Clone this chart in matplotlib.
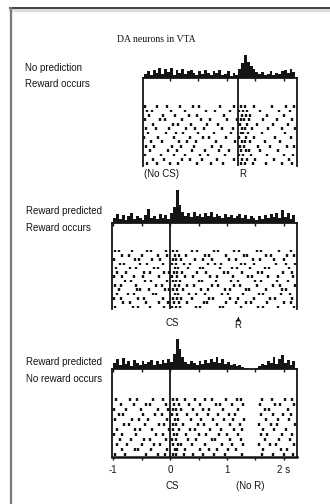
import matplotlib
matplotlib.use('Agg')
import matplotlib.pyplot as plt
from matplotlib.ticker import MultipleLocator
from matplotlib.lines import Line2D

## Data #########################################
bin_w = 0.05

# panel 1: no prediction, reward occurs (aligned so that R = 1.2 s)
hist1_start = -0.45
hist1 = [4, 7, 3, 8, 5, 10, 4, 9, 6, 10, 3, 8, 5, 9, 4, 7, 8, 5, 3, 7, 4, 8, 5, 3, 7, 5, 8,
         3, 4, 7, 2, 5, 3, 9, 15, 23, 16, 12, 9, 6, 4, 6, 3, 4, 7, 3, 5, 4, 7, 8, 5, 9, 6]
raster1 = [
    [-0.44, -0.22, -0.05, 0.18, 0.41, 0.52, 0.88, 1.13, 1.24, 1.31, 1.47, 1.79, 2.04, 2.17],
    [-0.40, -0.31, 0.02, 0.27, 0.63, 0.79, 1.05, 1.22, 1.28, 1.36, 1.58, 1.92, 2.11],
    [-0.36, -0.12, 0.09, 0.33, 0.47, 0.95, 1.26, 1.33, 1.41, 1.70, 2.00],
    [-0.43, -0.18, -0.09, 0.21, 0.55, 0.71, 1.01, 1.18, 1.25, 1.30, 1.39, 1.64, 1.88, 2.15],
    [-0.29, 0.05, 0.14, 0.38, 0.66, 0.84, 1.23, 1.35, 1.52, 1.81, 2.08],
    [-0.41, -0.25, -0.02, 0.29, 0.44, 0.60, 0.92, 1.10, 1.27, 1.32, 1.44, 1.73, 1.97, 2.19],
    [-0.38, -0.07, 0.11, 0.24, 0.50, 0.77, 1.07, 1.24, 1.29, 1.37, 1.62, 2.02],
    [-0.45, -0.20, 0.07, 0.36, 0.58, 0.69, 0.99, 1.21, 1.34, 1.48, 1.85, 2.13],
    [-0.33, -0.14, 0.16, 0.31, 0.46, 0.81, 1.15, 1.26, 1.31, 1.40, 1.67, 1.94],
    [-0.42, -0.27, 0.03, 0.19, 0.43, 0.74, 0.90, 1.23, 1.30, 1.55, 1.76, 2.06, 2.18],
    [-0.35, -0.04, 0.12, 0.39, 0.62, 0.86, 1.04, 1.25, 1.33, 1.38, 1.59, 1.90],
    [-0.44, -0.16, 0.08, 0.26, 0.53, 0.67, 0.97, 1.22, 1.29, 1.43, 1.71, 2.01, 2.16],
    [-0.30, -0.10, 0.22, 0.35, 0.57, 0.83, 1.12, 1.27, 1.35, 1.50, 1.83, 2.09],
    [-0.40, -0.23, 0.01, 0.15, 0.48, 0.72, 0.94, 1.24, 1.32, 1.46, 1.69, 1.96, 2.14],
]

# panel 2: reward predicted, reward occurs (CS = 0, R = 1.2 s)
hist2_start = -1.0
hist2 = [5, 9, 4, 8, 3, 7, 10, 4, 7, 5, 3, 8, 14, 5, 7, 4, 9, 5, 8, 4, 10, 16, 33, 18, 11, 7,
         10, 6, 11, 7, 9, 6, 10, 7, 11, 6, 9, 7, 5, 9, 6, 8, 5, 7, 9, 5, 8, 4, 7, 5, 3, 7,
         4, 8, 5, 9, 6, 10, 5, 13, 6, 10, 4, 8]
raster2 = [
    [-0.97, -0.90, -0.66, -0.41, -0.33, -0.08, 0.06, 0.13, 0.39, 0.47, 0.78, 0.85, 1.12, 1.21, 1.52, 1.60, 1.91, 2.12],
    [-0.84, -0.72, -0.50, -0.22, -0.05, 0.09, 0.16, 0.28, 0.61, 0.69, 0.98, 1.30, 1.36, 1.69, 1.77, 2.05, 2.18],
    [-0.99, -0.62, -0.55, -0.31, -0.17, 0.05, 0.11, 0.19, 0.44, 0.58, 0.73, 1.04, 1.15, 1.45, 1.58, 1.82, 2.00],
    [-0.88, -0.81, -0.52, -0.40, -0.12, 0.03, 0.10, 0.24, 0.35, 0.66, 0.79, 0.90, 1.24, 1.31, 1.48, 1.86, 2.03, 2.20],
    [-0.95, -0.70, -0.59, -0.28, -0.21, 0.08, 0.14, 0.31, 0.52, 0.57, 0.88, 1.08, 1.17, 1.41, 1.66, 1.73, 2.09],
    [-0.93, -0.77, -0.46, -0.36, -0.10, -0.02, 0.07, 0.12, 0.21, 0.48, 0.63, 0.95, 1.02, 1.26, 1.55, 1.62, 1.98, 2.14],
    [-0.98, -0.85, -0.63, -0.47, -0.19, 0.04, 0.13, 0.27, 0.40, 0.71, 0.83, 1.10, 1.37, 1.44, 1.72, 1.90, 2.16],
    [-0.79, -0.68, -0.44, -0.34, -0.06, 0.06, 0.11, 0.17, 0.50, 0.56, 0.81, 1.07, 1.19, 1.50, 1.59, 1.87, 2.07],
    [-0.96, -0.86, -0.60, -0.25, -0.15, 0.09, 0.15, 0.30, 0.42, 0.74, 0.84, 1.13, 1.23, 1.53, 1.80, 1.93, 2.19],
    [-0.89, -0.58, -0.53, -0.37, -0.09, -0.01, 0.05, 0.12, 0.22, 0.54, 0.67, 0.96, 1.05, 1.33, 1.39, 1.68, 1.97, 2.04],
    [-0.94, -0.74, -0.64, -0.30, -0.24, 0.08, 0.14, 0.33, 0.46, 0.62, 0.92, 1.01, 1.28, 1.57, 1.64, 1.95, 2.11],
    [-0.99, -0.87, -0.56, -0.45, -0.13, 0.06, 0.13, 0.20, 0.38, 0.69, 0.76, 1.06, 1.20, 1.47, 1.76, 1.84, 2.15],
    [-0.83, -0.71, -0.42, -0.20, -0.03, 0.07, 0.16, 0.29, 0.59, 0.65, 0.99, 1.16, 1.34, 1.42, 1.71, 2.01, 2.13],
    [-0.97, -0.65, -0.57, -0.35, -0.11, 0.04, 0.10, 0.18, 0.45, 0.53, 0.87, 0.93, 1.25, 1.54, 1.63, 1.89, 2.17],
]

# panel 3: reward predicted, no reward occurs (CS = 0, depression near 1.4 s)
hist3_start = -1.0
hist3 = [6, 10, 4, 11, 5, 8, 3, 9, 6, 4, 8, 5, 7, 9, 4, 8, 5, 9, 6, 10, 7, 15, 30, 20, 12, 7,
         5, 8, 6, 4, 8, 5, 9, 6, 10, 7, 12, 6, 10, 5, 7, 4, 5, 3, 4, 2, 1, 0, 0, 0, 1, 3,
         5, 4, 8, 6, 12, 5, 10, 14, 6, 9, 4, 8]
raster3 = [
    [-0.95, -0.71, -0.58, -0.30, -0.12, 0.05, 0.12, 0.26, 0.44, 0.61, 0.73, 0.98, 1.17, 1.25, 1.62, 1.79, 2.02, 2.15],
    [-0.86, -0.64, -0.42, -0.35, -0.08, 0.07, 0.15, 0.33, 0.52, 0.80, 0.88, 1.08, 1.28, 1.58, 1.85, 1.94, 2.18],
    [-0.99, -0.78, -0.51, -0.22, -0.04, 0.06, 0.11, 0.19, 0.40, 0.57, 0.69, 0.93, 1.20, 1.66, 1.73, 2.07],
    [-0.90, -0.83, -0.48, -0.27, -0.15, 0.04, 0.13, 0.29, 0.47, 0.66, 0.84, 1.03, 1.14, 1.60, 1.81, 1.99, 2.12],
    [-0.97, -0.66, -0.55, -0.39, -0.06, 0.08, 0.14, 0.37, 0.55, 0.76, 0.95, 1.11, 1.30, 1.69, 1.90, 2.09],
    [-0.81, -0.73, -0.44, -0.19, -0.10, 0.05, 0.10, 0.22, 0.49, 0.59, 0.82, 1.05, 1.22, 1.56, 1.77, 1.87, 2.19],
    [-0.93, -0.62, -0.53, -0.31, -0.02, 0.06, 0.16, 0.35, 0.43, 0.71, 0.90, 1.13, 1.27, 1.64, 1.83, 2.04],
    [-0.98, -0.85, -0.59, -0.24, -0.13, 0.07, 0.12, 0.28, 0.51, 0.64, 0.86, 1.00, 1.19, 1.59, 1.71, 1.97, 2.14],
    [-0.88, -0.69, -0.46, -0.36, -0.07, 0.04, 0.11, 0.31, 0.45, 0.74, 0.79, 1.06, 1.24, 1.67, 1.92, 2.10],
    [-0.94, -0.76, -0.50, -0.28, -0.17, 0.05, 0.14, 0.20, 0.39, 0.62, 0.91, 1.09, 1.29, 1.57, 1.75, 1.86, 2.17],
    [-0.84, -0.61, -0.57, -0.33, -0.05, 0.08, 0.13, 0.27, 0.53, 0.68, 0.83, 1.02, 1.16, 1.63, 1.95, 2.06],
    [-0.96, -0.79, -0.43, -0.21, -0.09, 0.06, 0.10, 0.24, 0.41, 0.58, 0.77, 0.97, 1.26, 1.61, 1.80, 2.01, 2.16],
]

tick_vals = [-1, 0, 1, 2]
tick_text = ['-1', '0', '1', '2 s']

## Set up figure ###########
W, H = 330, 504
INK = '#151515'
SANS = ['Liberation Sans Narrow', 'Liberation Sans', 'DejaVu Sans']
SERIF = ['Liberation Serif', 'DejaVu Serif']

fig = plt.figure(figsize=(W / 100, H / 100), dpi=100)


def box(x0, y0, x1, y1):
    # pixel box (top-left origin) -> figure fraction rect
    return [x0 / W, 1 - y1 / H, (x1 - x0) / W, (y1 - y0) / H]


def ftext(x, y, s, **kw):
    kw.setdefault('family', SANS)
    kw.setdefault('fontsize', 7)
    kw.setdefault('color', INK)
    fig.text(x / W, 1 - y / H, s, **kw)


def panel(hist_rect, rast_rect, xlim, start, counts, trials, hmax, rows, event, bottom_axis=False):
    axh = fig.add_axes(box(*hist_rect))
    edges = [start + i * bin_w for i in range(len(counts))]
    axh.bar(edges, counts, width=bin_w, align='edge', color=INK, linewidth=0)
    axh.set_xlim(*xlim)
    axh.set_ylim(0, hmax)
    for s in ['top', 'left', 'right']:
        axh.spines[s].set_visible(False)
    axh.spines['bottom'].set_linewidth(1.3)
    axh.spines['bottom'].set_color(INK)
    axh.set_yticks([])
    axh.xaxis.set_major_locator(MultipleLocator(0.5))
    axh.tick_params(axis='x', direction='out', length=2.5, width=1, color=INK, labelbottom=False)
    axh.patch.set_alpha(0)

    axr = fig.add_axes(box(*rast_rect))
    n = len(trials)
    axr.eventplot(trials, lineoffsets=[n - 1 - i for i in range(n)], linelengths=0.6,
                  linewidths=1.7, colors=INK)
    axr.axvline(event, color=INK, lw=1.3)
    axr.set_xlim(*xlim)
    axr.set_ylim(-0.5, rows - 0.5)
    axr.set_yticks([])
    axr.spines['top'].set_visible(False)
    for s in ['left', 'right']:
        axr.spines[s].set_linewidth(1.3)
        axr.spines[s].set_color(INK)
    if bottom_axis:
        axr.spines['bottom'].set_linewidth(1.8)
        axr.spines['bottom'].set_color(INK)
        axr.set_xticks(tick_vals)
        axr.set_xticklabels(tick_text, family=SANS, fontsize=7, color=INK)
        axr.xaxis.set_minor_locator(MultipleLocator(0.5))
        axr.tick_params(axis='x', which='both', direction='out', length=2.5, width=1,
                        color=INK, pad=3)
    else:
        axr.spines['bottom'].set_visible(False)
        axr.set_xticks([])
    axr.patch.set_alpha(0)
    return axh, axr


## Panels ###########
panel((143, 52, 297, 78), (143, 78, 297, 166), (-0.47, 2.23), hist1_start, hist1, raster1,
      26, 20, 1.2)
ax2h, ax2r = panel((112, 188, 297, 223), (112, 223, 297, 309), (-1.02, 2.23), hist2_start,
                   hist2, raster2, 35, 20, 0.0)
panel((112, 336, 297, 369), (112, 369, 297, 457), (-1.02, 2.23), hist3_start, hist3, raster3,
      33, 17.6, 0.0, bottom_axis=True)

# reward arrow under panel 2
ax2r.annotate('', xy=(1.2, -0.06), xycoords=('data', 'axes fraction'),
              xytext=(1.2, -0.14), textcoords=('data', 'axes fraction'),
              arrowprops=dict(arrowstyle='-|>', color=INK, lw=0.8, mutation_scale=5))

## Labels ###########
ftext(156, 40, 'DA neurons in VTA', family=SERIF, fontsize=7, ha='center', va='center')

ftext(25, 68, 'No prediction', va='center')
ftext(25, 84, 'Reward occurs', va='center')
ftext(161, 174, '(No CS)', ha='center', va='center')
ftext(243, 174, 'R', ha='center', va='center')

ftext(26, 211, 'Reward predicted', va='center')
ftext(26, 228, 'Reward occurs', va='center')
ftext(172, 323, 'CS', ha='center', va='center')
ftext(238, 325, 'R', ha='center', va='center')

ftext(26, 362, 'Reward predicted', va='center')
ftext(26, 379, 'No reward occurs', va='center')
ftext(172, 486, 'CS', ha='center', va='center')
ftext(250, 486, '(No R)', ha='center', va='center')

## Page frame ###########
fig.add_artist(Line2D([10 / W, 1], [1 - 10 / H, 1 - 10 / H], color='#dddddd', lw=2.5))
fig.add_artist(Line2D([10 / W, 1], [1 - 8 / H, 1 - 8 / H], color='#333333', lw=1.3))
fig.add_artist(Line2D([11 / W, 11 / W], [1 - 8 / H, 0], color='#7a7a7a', lw=1.6))

fig.savefig('out.png', dpi=100)
